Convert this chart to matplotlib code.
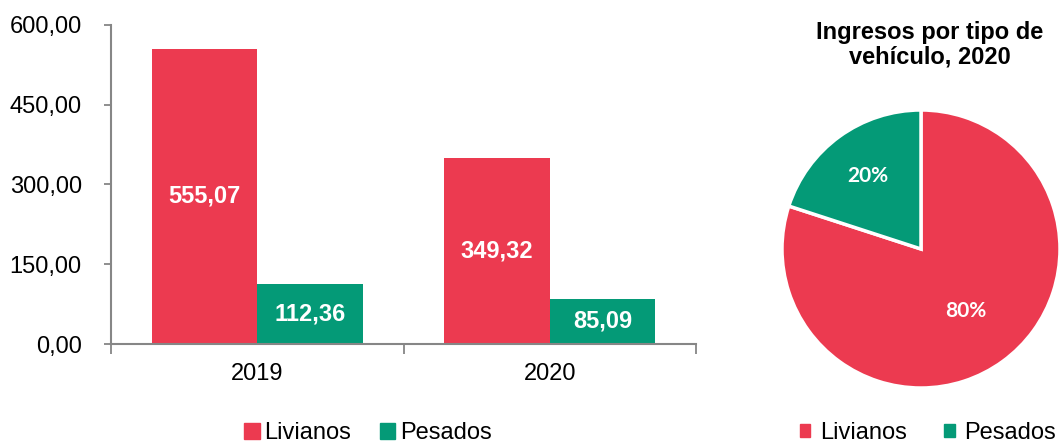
import numpy as np
import matplotlib
matplotlib.use("Agg")
import matplotlib.pyplot as plt
from matplotlib.patches import Patch

plt.rcParams['font.family'] = ['Liberation Sans', 'DejaVu Sans']

years = ["2019", "2020"]
livianos = [555.07, 349.32]
pesados = [112.36, 85.09]
y_ticks = [0, 150, 300, 450, 600]

pie_labels = ["Livianos", "Pesados"]
pie_values = [80, 20]
pie_title = "Ingresos por tipo de\nvehículo, 2020"

RED = "#EC3A50"
GREEN = "#049A77"
SPINE = "#868686"


def fmt_es(v):
    return f"{v:,.2f}".replace(",", "X").replace(".", ",").replace("X", ".")


fig = plt.figure(figsize=(10.6, 4.44), dpi=100)

# --- bar chart ---
ax = fig.add_axes([111 / 1060, 1 - 344 / 444, (696 - 111) / 1060, (344 - 25) / 444])
x = np.arange(len(years))
w = 0.36
b1 = ax.bar(x - w / 2, livianos, w, color=RED, label="Livianos")
b2 = ax.bar(x + w / 2, pesados, w, color=GREEN, label="Pesados")

for bars, vals in [(b1, livianos), (b2, pesados)]:
    for rect, v in zip(bars, vals):
        ax.text(rect.get_x() + rect.get_width() / 2, v / 2, fmt_es(v),
                ha="center", va="center", color="white", fontsize=17, fontweight="bold")

ax.set_xlim(-0.5, 1.5)
ax.set_ylim(0, 600)
ax.set_yticks(y_ticks)
ax.set_yticklabels([fmt_es(t) for t in y_ticks])
ax.set_xticks(x)
ax.set_xticklabels(years)
ax.set_xticks([-0.5, 0.5, 1.5], minor=True)
ax.tick_params(axis="x", which="major", length=0, pad=14, labelsize=17)
ax.tick_params(axis="x", which="minor", length=7, width=1.3, color=SPINE)
ax.tick_params(axis="y", length=5, width=1.3, color=SPINE, pad=16, labelsize=17)
for s in ["top", "right"]:
    ax.spines[s].set_visible(False)
for s in ["left", "bottom"]:
    ax.spines[s].set_color(SPINE)
    ax.spines[s].set_linewidth(1.5)

fig.legend(handles=[Patch(color=RED), Patch(color=GREEN)], labels=["Livianos", "Pesados"],
           loc="center", bbox_to_anchor=(368 / 1060, 1 - 433 / 444), ncol=2, frameon=False,
           fontsize=17, handlelength=0.65, handleheight=0.65, handletextpad=0.2,
           columnspacing=1.2, borderaxespad=0)

# --- pie chart ---
pax = fig.add_axes([782 / 1060, 1 - 388 / 444, 278 / 1060, 278 / 444])
wedges, _ = pax.pie(pie_values, colors=[RED, GREEN], startangle=90, counterclock=False,
                    wedgeprops=dict(edgecolor="white", linewidth=2.5))
pct_dist = [0.55, 0.65]
for wdg, v, d in zip(wedges, pie_values, pct_dist):
    ang = np.deg2rad((wdg.theta1 + wdg.theta2) / 2)
    pax.text(d * np.cos(ang), d * np.sin(ang), f"{v}%", ha="center", va="center",
             color="white", fontsize=15, fontweight="bold", family=["Lato", "DejaVu Sans"])
pax.set_xlim(-1.0, 1.0)
pax.set_ylim(-1.0, 1.0)
pax.set_aspect("equal")

fig.text(930 / 1060, 1 - 45 / 444, pie_title, ha="center", va="center",
         fontsize=17, fontweight="bold", linespacing=1.1)

fig.legend(handles=[Patch(color=RED), Patch(color=GREEN)], labels=pie_labels,
           loc="center", bbox_to_anchor=(928 / 1060, 1 - 433 / 444), ncol=2, frameon=False,
           fontsize=17, handlelength=0.45, handleheight=0.45, handletextpad=0.4,
           columnspacing=1.6, borderaxespad=0)

fig.savefig("out.png", dpi=100)
